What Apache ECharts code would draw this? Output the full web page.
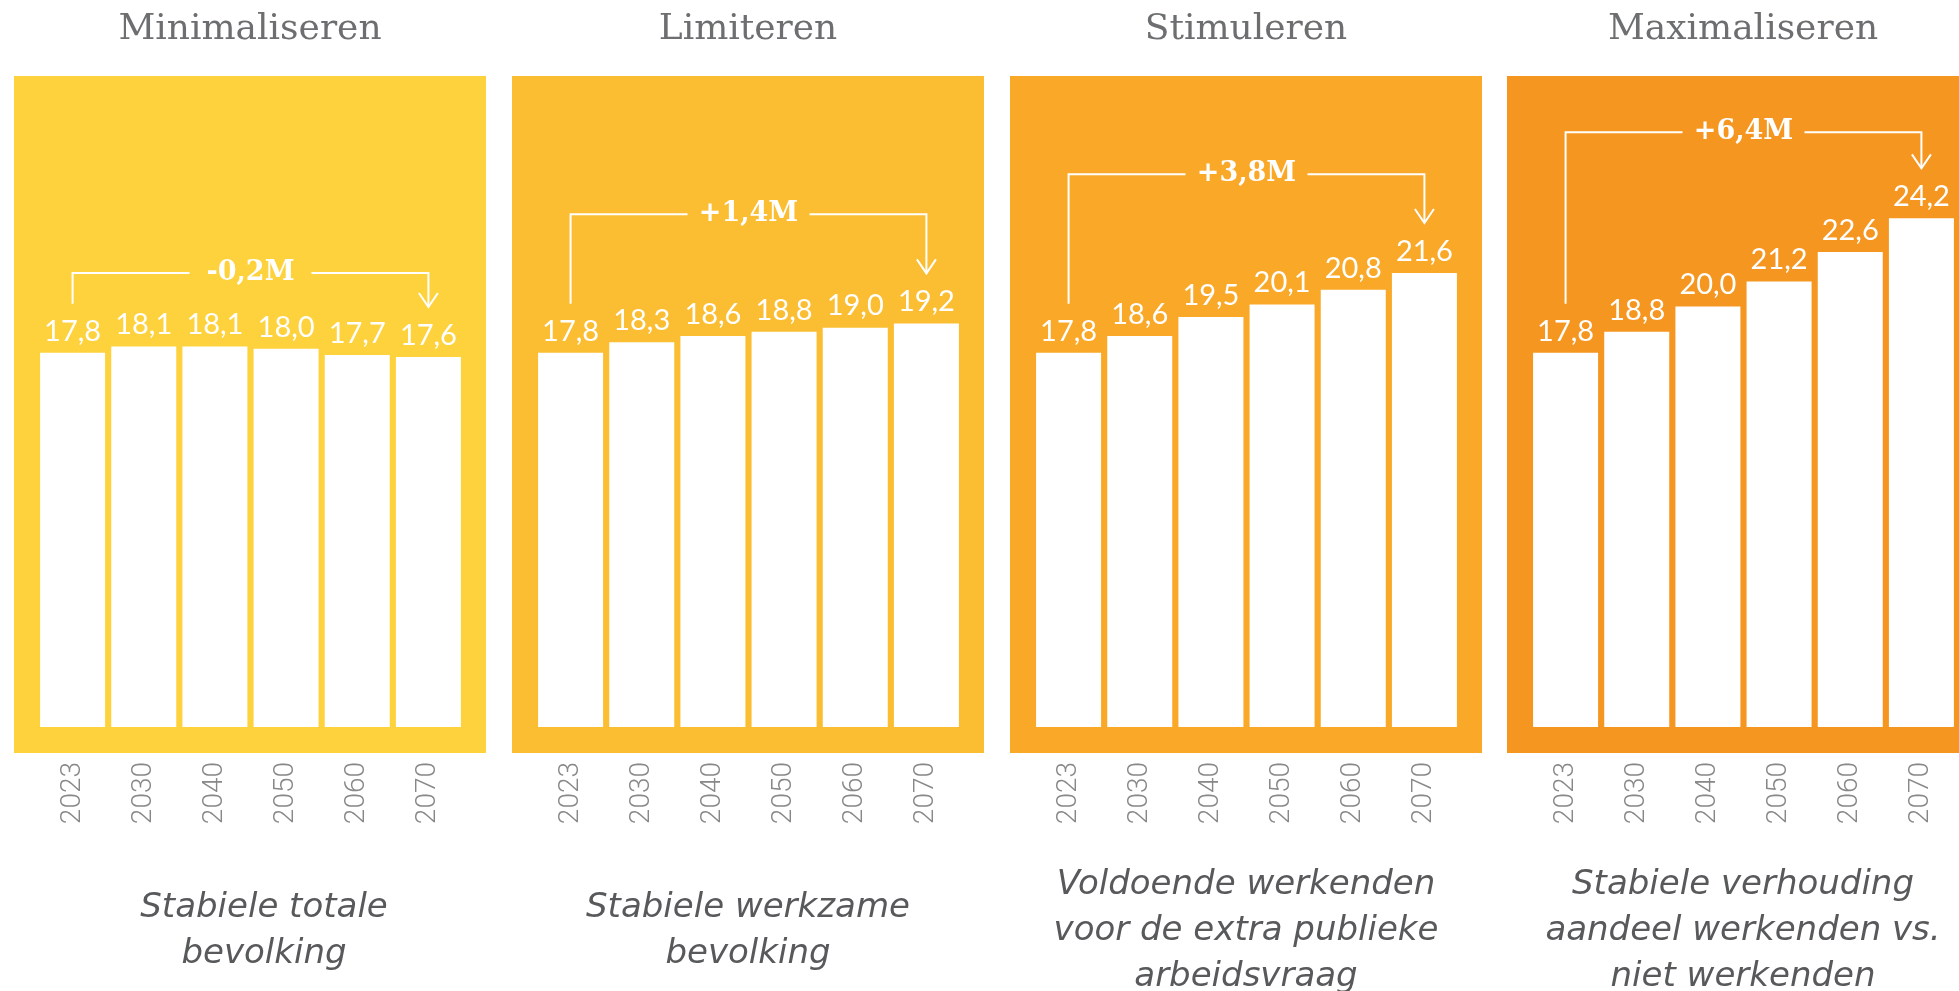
<!DOCTYPE html>
<html><head><meta charset="utf-8">
<script src="https://cdn.jsdelivr.net/npm/echarts@6/dist/echarts.min.js"></script>
<style>html,body{margin:0;padding:0;background:#fff;overflow:hidden}#c{width:1959px;height:991px}</style>
</head><body><div id="c"></div>
<script>
// ---- data ----
const years = ['2023', '2030', '2040', '2050', '2060', '2070'];
const scenarios = ['Minimaliseren', 'Limiteren', 'Stimuleren', 'Maximaliseren'];
const minimaliseren = [17.8, 18.1, 18.1, 18.0, 17.7, 17.6];
const limiteren = [17.8, 18.3, 18.6, 18.8, 19.0, 19.2];
const stimuleren = [17.8, 18.6, 19.5, 20.1, 20.8, 21.6];
const maximaliseren = [17.8, 18.8, 20.0, 21.2, 22.6, 24.2];
const changes = ['-0,2M', '+1,4M', '+3,8M', '+6,4M'];
const descriptions = [
  'Stabiele totale\nbevolking',
  'Stabiele werkzame\nbevolking',
  'Voldoende werkenden\nvoor de extra publieke\narbeidsvraag',
  'Stabiele verhouding\naandeel werkenden vs.\nniet werkenden'
];

// ---- layout / style ----
const seriesValues = [minimaliseren, limiteren, stimuleren, maximaliseren];
const panelColors = ['#FED23D', '#FBBE33', '#F9A828', '#F59621'];
const bracketLevel = [21.6, 24.4, 26.3, 28.3];
const panelLeft = [14, 512, 1010, 1507];
const descShift = [14, 0, 0, 0];
const panelW = 472, panelTop = 76, panelH = 677;
const gridTop = 75.4, gridH = 651.6, gridW = 427, gridOffset = 23;

const fmt = v => v.toFixed(1).replace('.', ',');

const grids = [], xAxes = [], yAxes = [], series = [], graphics = [];
seriesValues.forEach((vals, i) => {
  const pl = panelLeft[i];
  const cx = pl + panelW / 2;
  graphics.push({
    type: 'rect', z: -10, silent: true,
    shape: { x: pl, y: panelTop, width: panelW, height: panelH },
    style: { fill: panelColors[i] }
  });
  graphics.push({
    type: 'text', silent: true, x: cx, y: 30,
    style: { text: scenarios[i], fill: '#6D6E70', font: '36px "DejaVu Serif"', align: 'center', verticalAlign: 'middle' }
  });
  graphics.push({
    type: 'text', silent: true, x: cx + descShift[i], y: 931,
    style: { text: descriptions[i], fill: '#58595B', font: 'italic 34px "DejaVu Sans"', lineHeight: 46, align: 'center', verticalAlign: 'middle' }
  });
  grids.push({ left: pl + gridOffset, top: gridTop, width: gridW, height: gridH, containLabel: false });
  xAxes.push({
    type: 'category', gridIndex: i, data: years,
    axisLine: { show: false }, axisTick: { show: false }, splitLine: { show: false },
    axisLabel: {
      rotate: 90, margin: 35, color: '#888888', fontSize: 28, fontWeight: 300,
      fontFamily: 'Roboto, "Liberation Sans Narrow", sans-serif'
    }
  });
  yAxes.push({ type: 'value', gridIndex: i, min: 0, max: 31, show: false, splitLine: { show: false } });
  series.push({
    type: 'bar', xAxisIndex: i, yAxisIndex: i, data: vals, barWidth: 65,
    itemStyle: { color: '#FFFFFF' }, silent: true,
    label: {
      show: true, position: 'top', distance: 7, color: '#FFFFFF',
      fontFamily: 'Lato', fontSize: 29, formatter: p => fmt(p.value)
    }
  });
  series.push({
    type: 'custom', xAxisIndex: i, yAxisIndex: i, silent: true, z: 5,
    data: [[0, bracketLevel[i]]],
    renderItem: (params, api) => {
      const first = api.coord([0, vals[0]]);
      const last = api.coord([vals.length - 1, vals[vals.length - 1]]);
      const levelY = api.coord([0, api.value(1)])[1];
      const startY = first[1] - 49;
      const tipY = last[1] - 50;
      const mid = (first[0] + last[0]) / 2;
      const half = 61;
      const ls = { stroke: '#FFFFFF', lineWidth: 2, fill: null };
      return {
        type: 'group', children: [
          { type: 'polyline', shape: { points: [[first[0], startY], [first[0], levelY], [mid - half, levelY]] }, style: ls },
          { type: 'polyline', shape: { points: [[mid + half, levelY], [last[0], levelY], [last[0], tipY]] }, style: ls },
          { type: 'polyline', shape: { points: [[last[0] - 9.5, tipY - 14], [last[0], tipY], [last[0] + 9.5, tipY - 14]] }, style: ls },
          { type: 'text', x: mid, y: levelY, style: { text: changes[i], fill: '#FFFFFF', font: 'bold 27px "DejaVu Serif"', align: 'center', verticalAlign: 'middle' } }
        ]
      };
    }
  });
});

const chart = echarts.init(document.getElementById('c'), null, { renderer: 'canvas' });
chart.setOption({
  animation: false,
  backgroundColor: '#FFFFFF',
  grid: grids, xAxis: xAxes, yAxis: yAxes, series: series,
  graphic: { elements: graphics }
});
</script></body></html>
